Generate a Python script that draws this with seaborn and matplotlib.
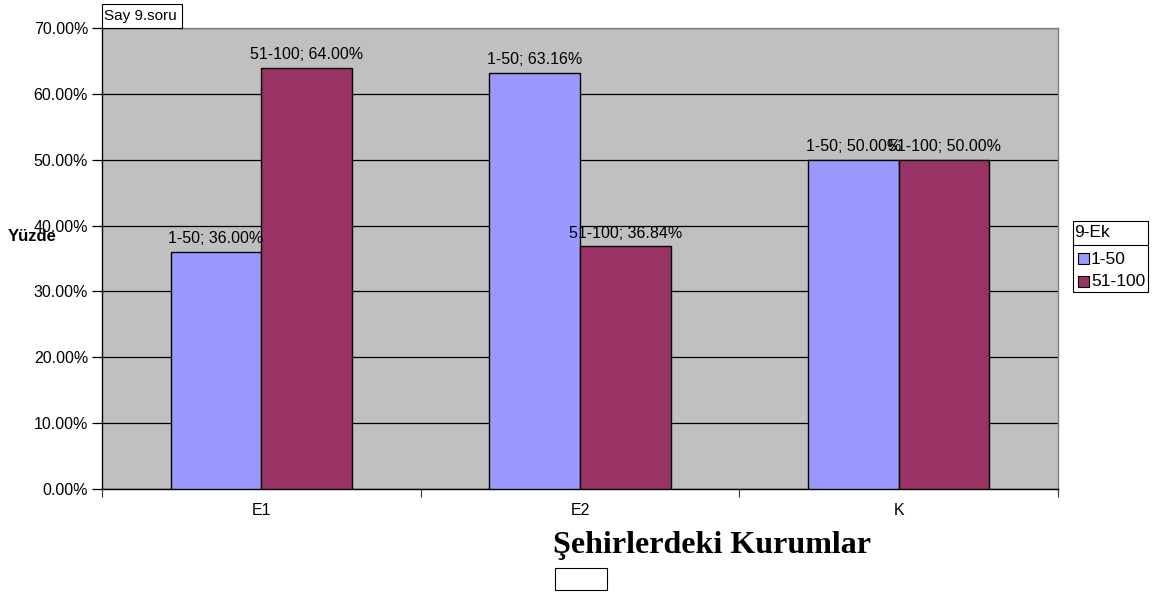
import matplotlib
matplotlib.use("Agg")
import matplotlib.pyplot as plt
from matplotlib.patches import Rectangle
from matplotlib.lines import Line2D
from matplotlib.ticker import MultipleLocator, FuncFormatter
import seaborn as sns
import pandas as pd

categories = ["E1", "E2", "K"]
series_names = ["1-50", "51-100"]
values_1_50 = [36.00, 63.16, 50.00]
values_51_100 = [64.00, 36.84, 50.00]
colors = ["#9999FF", "#993366"]

df = pd.DataFrame({
    "Kurum": categories * 2,
    "Seri": [series_names[0]] * 3 + [series_names[1]] * 3,
    "Yuzde": values_1_50 + values_51_100,
})

sns.set_theme(style="white")
plt.rcParams["font.family"] = ["Liberation Sans", "DejaVu Sans"]
plt.rcParams["text.color"] = "black"

FS = 11.5
W, H = 1155, 595
fig = plt.figure(figsize=(W / 100, H / 100), dpi=100)
ax = fig.add_axes([102 / W, 1 - 489 / H, (1058 - 102) / W, (489 - 28) / H])
ax.set_facecolor("#C0C0C0")

sns.barplot(data=df, x="Kurum", y="Yuzde", hue="Seri", palette=colors,
            width=0.57, edgecolor="black", linewidth=1, saturation=1,
            legend=False, ax=ax, zorder=3)

ax.set_xlim(-0.5, 2.5)
ax.set_ylim(0, 70)
ax.yaxis.set_major_locator(MultipleLocator(10))
ax.yaxis.set_major_formatter(FuncFormatter(lambda v, p: f"{v:.2f}%"))
ax.grid(axis="y", color="black", linewidth=0.9, zorder=1)
ax.set_axisbelow(True)

# Category boundary ticks on the x axis
ax.set_xticks([0, 1, 2])
ax.set_xticks([-0.5, 0.5, 1.5, 2.5], minor=True)
ax.tick_params(axis="x", which="major", length=0, pad=10, labelsize=FS, colors="black")
ax.tick_params(axis="x", which="minor", length=6, width=0.8, direction="out",
               bottom=True, color="#333333")
ax.tick_params(axis="y", length=7, width=0.9, direction="out", left=True,
               labelsize=FS, colors="black", pad=3)

for side in ["top", "right"]:
    ax.spines[side].set_color("#808080")
    ax.spines[side].set_linewidth(1)
for side in ["left", "bottom"]:
    ax.spines[side].set_color("black")
    ax.spines[side].set_linewidth(1)

ax.set_xlabel("")
ax.set_ylabel("")

# Value labels above each bar
for cont, name in zip(ax.containers, series_names):
    for bar in cont:
        h = bar.get_height()
        ax.annotate(f"{name}; {h:.2f}%",
                    xy=(bar.get_x() + bar.get_width() / 2, h),
                    xytext=(0, 4), textcoords="offset points",
                    ha="center", va="bottom", fontsize=FS, color="black",
                    zorder=5)

# Axis titles
fig.text(8 / W, 1 - 237 / H, "Yüzde", fontsize=12, fontweight="bold",
         ha="left", va="center")
fig.text(712 / W, 1 - 545 / H, "Şehirlerdeki Kurumlar",
         family=["Liberation Serif", "DejaVu Serif"], fontsize=23,
         fontweight="bold", ha="center", va="center")
fig.patches.append(Rectangle((555 / W, 1 - 590 / H), 52 / W, 22 / H,
                             transform=fig.transFigure, facecolor="white",
                             edgecolor="black", linewidth=0.8))

# Chart title box
fig.patches.append(Rectangle((102 / W, 1 - 28 / H), 80 / W, 24 / H,
                             transform=fig.transFigure, facecolor="white",
                             edgecolor="black", linewidth=0.8, zorder=4))
fig.text(104 / W, 1 - 16 / H, "Say 9.soru", fontsize=11, ha="left",
         va="center", zorder=5)

# Legend
lx0, ly0, lx1, ly1 = 1073, 221, 1148, 292
fig.patches.append(Rectangle((lx0 / W, 1 - ly1 / H), (lx1 - lx0) / W,
                             (ly1 - ly0) / H, transform=fig.transFigure,
                             facecolor="white", edgecolor="black",
                             linewidth=0.8))
fig.lines.append(Line2D([lx0 / W, lx1 / W], [1 - 245 / H, 1 - 245 / H],
                        transform=fig.transFigure, color="black",
                        linewidth=0.8))
fig.text(1074 / W, 1 - 233 / H, "9-Ek", fontsize=12.5, ha="left", va="center")
for i, (name, c) in enumerate(zip(series_names, colors)):
    yc = 259 + i * 23
    fig.patches.append(Rectangle((1078 / W, 1 - (yc + 5) / H), 11 / W, 11 / H,
                                 transform=fig.transFigure, facecolor=c,
                                 edgecolor="black", linewidth=0.8))
    fig.text(1091 / W, 1 - yc / H, name, fontsize=12.5, ha="left", va="center")

fig.savefig("out.png", dpi=100, facecolor="white")
